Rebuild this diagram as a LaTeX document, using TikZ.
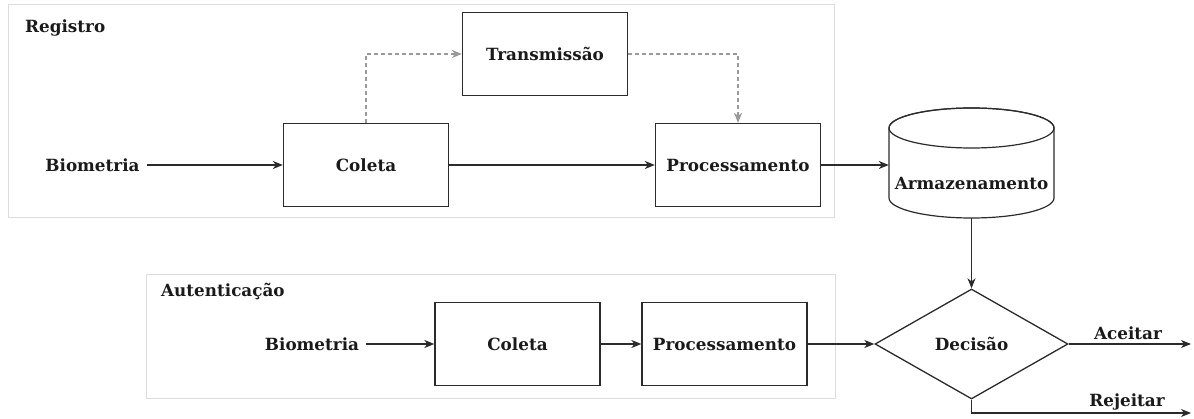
\documentclass[tikz,border=0pt]{standalone}
\usepackage{fontspec}
\setmainfont{DejaVu Serif}
\usetikzlibrary{arrows.meta,shapes.geometric}
\definecolor{groupc}{HTML}{DDDDDD}
\definecolor{linec}{HTML}{2B2B2B}
\definecolor{dashc}{HTML}{999999}
\definecolor{txtc}{HTML}{1A1A1A}
\tikzset{
  every node/.style={font=\fontsize{16.8}{19}\selectfont\bfseries, text=txtc},
  groupbox/.style={draw=groupc, line width=1pt},
  procbox/.style={draw=linec, line width=1.3pt, minimum width=165pt, minimum height=83pt, inner sep=0pt},
  plain/.style={inner sep=0pt},
  tip/.style={-{Stealth[length=10pt,width=8pt,inset=3pt]}},
  conn/.style={draw=linec, line width=1.3pt, tip},
  dconn/.style={draw=dashc, line width=1.2pt, dash pattern=on 4pt off 3pt, tip},
}
\begin{document}
\begin{tikzpicture}[x=1pt,y=-1pt]
\useasboundingbox (0,0) rectangle (1194,419);
% groups
\draw[groupbox] (8,5) rectangle (834,218);
\draw[groupbox] (146,275) rectangle (835,399);
\node[plain, anchor=west] (lreg) at (25,28) {Registro};
\node[plain, anchor=west] (laut) at (161,291) {Autenticação};
% registro row
\node[plain] (bio1) at (92.5,165) {Biometria};
\node[procbox] (col1) at (366,165) {Coleta};
\node[procbox] (tra) at (545,54) {Transmissão};
\node[procbox] (pro1) at (738,165) {Processamento};
% cylinder
\node[plain, minimum width=165pt, minimum height=110pt] (arm) at (971.5,163) {};
\draw[linec, line width=1.2pt, fill=white]
  (889,128) -- (889,198) arc[start angle=180, end angle=0, x radius=82.5, y radius=20]
  -- (1054,128) arc[start angle=0, end angle=-180, x radius=82.5, y radius=20] -- cycle;
\draw[linec, line width=1.2pt] (971.5,128) ellipse[x radius=82.5, y radius=20];
\node[plain] (armt) at (971.5,183) {Armazenamento};
% autenticacao row
\node[plain] (bio2) at (312,344) {Biometria};
\node[procbox] (col2) at (517.5,344) {Coleta};
\node[procbox] (pro2) at (724.5,344) {Processamento};
% decision
\node[draw=linec, line width=1.3pt, diamond, aspect=1.755, minimum width=193pt, minimum height=110pt, inner sep=0pt] (dec) at (971.5,344) {Decisão};
\coordinate (acc) at (1191,344);
\coordinate (rej) at (1191,413);
\node[plain] (lacc) at (1128,333) {Aceitar};
\node[plain] (lrej) at (1127,402) {Rejeitar};
% connectors
\draw[conn] (bio1.east) ++(7,0) -- (col1.west);
\draw[conn] (col1.east) -- (pro1.west);
\draw[conn] (pro1.east) -- (pro1.east -| arm.west);
\draw[dconn] (col1.north) |- (tra.west);
\draw[dconn] (tra.east) -| (pro1.north);
\draw[conn] (arm.south) -- (dec.north);
\draw[conn] (bio2.east) ++(7,0) -- (col2.west);
\draw[conn] (col2.east) -- (pro2.west);
\draw[conn] (pro2.east) -- (dec.west);
\draw[conn] (dec.east) -- (acc);
\draw[conn] (dec.south) |- (rej);
\end{tikzpicture}
\end{document}
